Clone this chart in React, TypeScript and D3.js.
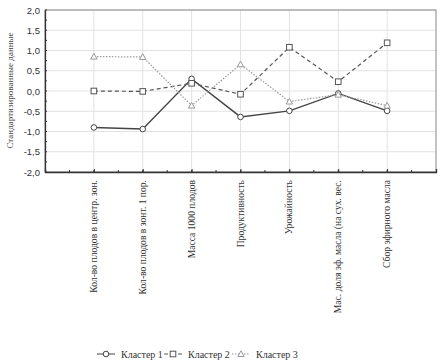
import React, { useEffect, useRef } from 'react';
import * as d3 from 'd3';

const categories = [
  'Кол-во плодов в центр. зон.',
  'Кол-во плодов в зонт. 1 пор.',
  'Масса 1000 плодов',
  'Продуктивность',
  'Урожайность',
  'Мас. доля эф. масла (на сух. вес.',
  'Сбор эфирного масла',
];

const cluster1 = [-0.9, -0.94, 0.3, -0.64, -0.49, -0.06, -0.49];
const cluster2 = [0.0, -0.01, 0.19, -0.08, 1.08, 0.23, 1.19];
const cluster3 = [0.85, 0.84, -0.36, 0.66, -0.26, -0.09, -0.36];

const seriesNames = ['Кластер 1', 'Кластер 2', 'Кластер 3'];
const yTicks = [-2, -1.5, -1, -0.5, 0, 0.5, 1, 1.5, 2];

const App = () => {
  const svgRef = useRef<SVGSVGElement>(null);

  useEffect(() => {
    const width = 445;
    const height = 364;
    const margin = { top: 10, right: 9, bottom: 192, left: 45 };
    const font = 'Liberation Serif, DejaVu Serif, serif';
    const sans = 'Liberation Sans, Arial, sans-serif';

    const svg = d3.select(svgRef.current).attr('width', width).attr('height', height);
    svg.selectAll('*').remove();

    const x = d3.scaleLinear().domain([0, categories.length + 1]).range([margin.left, width - margin.right]);
    const y = d3.scaleLinear().domain([-2, 2]).range([height - margin.bottom, margin.top]);

    // grid
    svg.append('g')
      .selectAll('line')
      .data(yTicks)
      .join('line')
      .attr('x1', margin.left).attr('x2', width - margin.right)
      .attr('y1', (d) => y(d)).attr('y2', (d) => y(d))
      .attr('stroke', '#e2e2e2');
    svg.append('g')
      .selectAll('line')
      .data(categories)
      .join('line')
      .attr('x1', (_, i) => x(i + 1)).attr('x2', (_, i) => x(i + 1))
      .attr('y1', y(2)).attr('y2', y(-2))
      .attr('stroke', '#e2e2e2');

    // frame
    svg.append('rect')
      .attr('x', margin.left).attr('y', y(2))
      .attr('width', width - margin.right - margin.left).attr('height', y(-2) - y(2))
      .attr('fill', 'none').attr('stroke', '#888');

    // y axis
    const yAxis = svg.append('g')
      .attr('transform', `translate(${margin.left},0)`)
      .call(d3.axisLeft(y).tickValues(yTicks).tickSize(0).tickPadding(5)
        .tickFormat((d) => d3.format('.1f')(d as number).replace('.', ',').replace('−', '-')));
    yAxis.select('.domain').attr('stroke', '#333').attr('stroke-width', 1.3);
    yAxis.selectAll('text').style('font-family', sans).attr('font-size', 9.5).attr('fill', '#333');

    // minor ticks on left
    const minor = d3.range(-2, 2.001, 0.25);
    svg.append('g').selectAll('line').data(minor).join('line')
      .attr('x1', margin.left).attr('x2', margin.left + 2)
      .attr('y1', (d) => y(d)).attr('y2', (d) => y(d))
      .attr('stroke', '#333');

    // bottom axis
    const xAxis = svg.append('g')
      .attr('transform', `translate(0,${y(-2)})`)
      .call(d3.axisBottom(x).tickValues(d3.range(1, categories.length + 1)).tickSize(-3).tickFormat(() => ''));
    xAxis.select('.domain').attr('stroke', '#333').attr('stroke-width', 1.3);
    xAxis.selectAll('line').attr('stroke', '#333');
    svg.append('g').selectAll('line').data(d3.range(0.5, categories.length + 1, 0.5)).join('line')
      .attr('x1', (d) => x(d)).attr('x2', (d) => x(d))
      .attr('y1', y(-2)).attr('y2', y(-2) - 2)
      .attr('stroke', '#333');

    // category labels
    svg.append('g').selectAll('text').data(categories).join('text')
      .attr('transform', (_, i) => `translate(${x(i + 1) + 3},${y(-2) + 8}) rotate(-90)`)
      .attr('text-anchor', 'end')
      .style('font-family', font).attr('font-size', 9.6).attr('fill', '#333')
      .text((d) => d);

    // y title
    svg.append('text')
      .attr('transform', `translate(13,${y(0) - 0.5}) rotate(-90)`)
      .attr('text-anchor', 'middle')
      .style('font-family', font).attr('font-size', 9).attr('fill', '#444')
      .text('Стандартизированные данные');

    const series = [
      { name: seriesNames[0], values: cluster1, color: '#444', dash: null, width: 1.4, marker: 'circle' },
      { name: seriesNames[1], values: cluster2, color: '#555', dash: '4,3', width: 1.2, marker: 'square' },
      { name: seriesNames[2], values: cluster3, color: '#999', dash: '1.5,1.5', width: 1.2, marker: 'triangle' },
    ];

    const line = d3.line<number>().x((_, i) => x(i + 1)).y((d) => y(d));

    const drawMarker = (g: any, type: string, cx: number, cy: number, color: string) => {
      if (type === 'circle') {
        g.append('circle').attr('cx', cx).attr('cy', cy).attr('r', 2.8)
          .attr('fill', '#fff').attr('stroke', color).attr('stroke-width', 1);
      } else if (type === 'square') {
        g.append('rect').attr('x', cx - 2.8).attr('y', cy - 2.8).attr('width', 5.6).attr('height', 5.6)
          .attr('fill', '#fff').attr('stroke', color).attr('stroke-width', 1);
      } else {
        g.append('path').attr('d', `M${cx},${cy - 3.2}L${cx + 3.2},${cy + 2.5}L${cx - 3.2},${cy + 2.5}Z`)
          .attr('fill', '#fff').attr('stroke', color).attr('stroke-width', 1);
      }
    };

    series.forEach((s) => {
      svg.append('path').datum(s.values)
        .attr('d', line)
        .attr('fill', 'none')
        .attr('stroke', s.color)
        .attr('stroke-width', s.width)
        .attr('stroke-dasharray', s.dash);
      const g = svg.append('g');
      s.values.forEach((v, i) => drawMarker(g, s.marker, x(i + 1), y(v), s.color));
    });

    // legend
    const legendY = 354;
    const legendX = [97, 164, 232];
    series.forEach((s, i) => {
      const lx = legendX[i];
      const g = svg.append('g');
      g.append('line').attr('x1', lx).attr('x2', lx + 18).attr('y1', legendY).attr('y2', legendY)
        .attr('stroke', s.color).attr('stroke-width', 1).attr('stroke-dasharray', s.dash);
      drawMarker(g, s.marker, lx + 9, legendY, s.color);
      g.append('text').attr('x', lx + 24).attr('y', legendY + 3.5)
        .style('font-family', font).attr('font-size', 10).attr('fill', '#333')
        .text(s.name);
    });
  }, []);

  return (
    <div style={{ position: 'absolute', left: 0, top: 0 }}>
      <svg ref={svgRef}></svg>
    </div>
  );
};

export default App;
